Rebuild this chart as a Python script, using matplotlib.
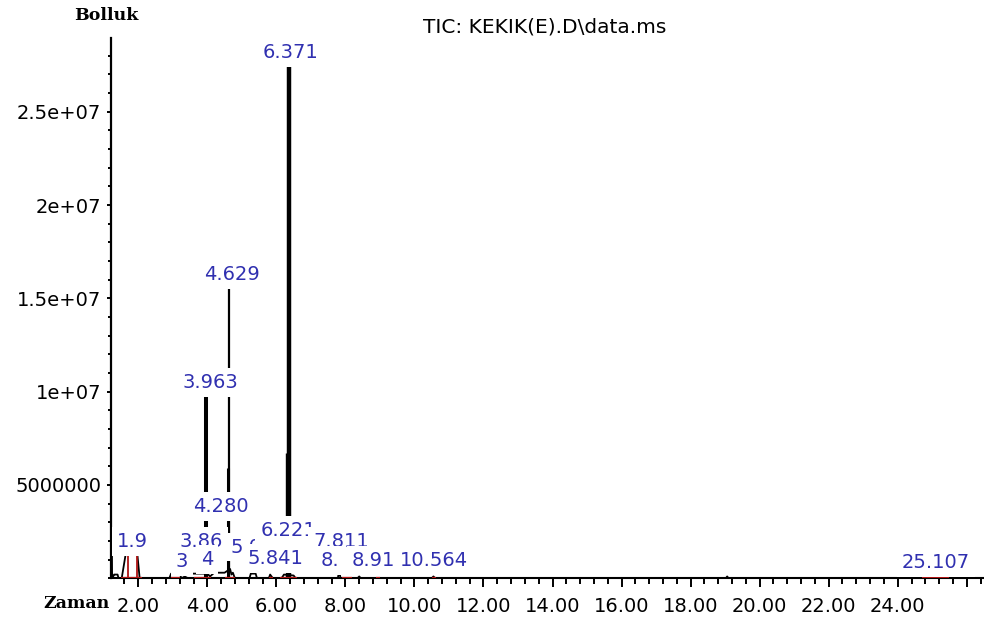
import matplotlib
matplotlib.use('Agg')
import matplotlib.pyplot as plt
from matplotlib.ticker import FixedLocator, MultipleLocator

# main peaks (retention time in min, abundance)
peak_rt = [3.963, 4.600, 4.629, 6.270, 6.371]
peak_abund = [9.88e6, 5.9e6, 15.54e6, 6.7e6, 27.46e6]

# low level part of the TIC trace near the baseline
trace_t = [1.21, 1.225, 1.245, 1.30, 1.33, 1.40, 1.43, 1.52, 1.64, 1.85, 1.97, 2.04,
           2.90, 2.95, 3.20, 3.25, 3.45, 3.50, 3.62, 4.00, 4.08, 4.20, 4.25, 4.50,
           4.66, 4.70, 4.74, 4.80, 5.22, 5.26, 5.40, 5.44, 5.78, 5.82, 5.90, 6.15,
           6.22, 6.50, 6.56, 7.78, 7.82, 7.86, 8.35, 8.40, 8.45, 10.50, 10.55, 10.60,
           19.02, 19.06, 19.10, 24.88, 24.92, 25.45, 25.50, 25.80, 25.84, 25.88, 26.5]
trace_abund = [0, 1.35e6, 0, 0.2e6, 0.2e6, 0.2e6, 0, 0, 1.35e6, 1.35e6, 1.35e6, 0,
               0, 0.25e6, 0.25e6, 0, 0.2e6, 0.25e6, 0.25e6, 0.25e6, 0.1e6, 0.3e6, 0.3e6, 0.3e6,
               0.5e6, 0.2e6, 0.3e6, 0, 0, 0.25e6, 0.25e6, 0, 0, 0.2e6, 0, 0,
               0.2e6, 0.15e6, 0, 0, 0.4e6, 0, 0, 0.1e6, 0, 0, 0.1e6, 0,
               0, 0.1e6, 0, 0, 0.15e6, 0.15e6, 0, 0, 0.1e6, 0, 0]

# integration events (red)
integ_start = [1.50, 2.95, 3.60, 4.50, 5.78, 6.10, 7.90, 8.90, 10.50, 24.70]
integ_end = [2.10, 3.20, 4.10, 4.80, 5.90, 6.60, 8.20, 9.00, 10.62, 25.50]
integ_box_rt = [1.71, 1.95]
integ_box_abund = 1.33e6

# peak labels as they show on the plot
label_text = ['6.371', '4.629', '3.963', '4.280', '1.9', '3.86', '5.087', '6.221', '7.811',
              '3', '4', '5.841', '8.', '8.91', '10.564', '25.107']
label_rt = [6.42, 4.70, 4.09, 4.38, 1.82, 3.83, 5.47, 6.34, 7.87,
            3.27, 4.00, 5.96, 7.54, 8.82, 10.57, 25.11]
label_abund = [28.26e6, 16.36e6, 10.57e6, 3.93e6, 2.05e6, 2.05e6, 1.75e6, 2.62e6, 2.05e6,
               0.98e6, 1.09e6, 1.14e6, 1.03e6, 1.03e6, 1.03e6, 0.93e6]

xtick_values = [2, 4, 6, 8, 10, 12, 14, 16, 18, 20, 22, 24, 26]
xtick_labels = ['2.00', '4.00', '6.00', '8.00', '10.00', '12.00', '14.00', '16.00',
                '18.00', '20.00', '22.00', '24.00', '']
ytick_values = [5e6, 1e7, 1.5e7, 2e7, 2.5e7]
ytick_labels = ['5000000', '1e+07', '1.5e+07', '2e+07', '2.5e+07']

peak_lw = [2.9, 2.2, 1.6, 1.0, 3.2]
red = '#b01515'
blue = '#3030b0'

fig = plt.figure(figsize=(9.84, 6.23), dpi=100)
ax = fig.add_axes([111 / 984, 1 - 578.3 / 623, (984 - 111) / 984, (578.3 - 38) / 623])

ax.plot(trace_t, trace_abund, color='black', lw=1.3, zorder=2)
ax.vlines(peak_rt, 0, peak_abund, colors='black', linewidths=peak_lw, zorder=2)
ax.hlines([0] * len(integ_start), integ_start, integ_end, colors=red, lw=1.6, zorder=3)
ax.vlines(integ_box_rt, 0, integ_box_abund, colors=red, lw=1.3, zorder=3)
ax.hlines(integ_box_abund, integ_box_rt[0], integ_box_rt[1], colors=red, lw=1.3, zorder=3)

for i, (txt, x, y) in enumerate(zip(label_text, label_rt, label_abund)):
    ax.annotate(txt, (x, y), xytext=(0, -5), textcoords='offset points',
                ha='center', va='baseline', fontsize=14, color=blue, zorder=4 + i,
                bbox=dict(boxstyle='square,pad=0.25', fc='white', ec='none'),
                annotation_clip=False)

ax.set_xlim(1.21, 26.5)
ax.set_ylim(0, 2.895e7)

ax.xaxis.set_major_locator(FixedLocator(xtick_values))
ax.set_xticklabels(xtick_labels)
ax.xaxis.set_minor_locator(MultipleLocator(0.4))
ax.yaxis.set_major_locator(FixedLocator(ytick_values))
ax.set_yticklabels(ytick_labels)
ax.yaxis.set_minor_locator(MultipleLocator(1e6))

ax.tick_params(axis='x', which='major', direction='out', length=6.5, width=1.4, pad=7, labelsize=14)
ax.tick_params(axis='x', which='minor', direction='out', length=4, width=1.4)
ax.tick_params(axis='y', which='major', direction='out', length=3, width=1.4, pad=4, labelsize=14)
ax.tick_params(axis='y', which='minor', direction='out', length=2.2, width=1.4)

for side in ['top', 'right']:
    ax.spines[side].set_visible(False)
ax.spines['left'].set_linewidth(1.6)
ax.spines['bottom'].set_linewidth(1.5)

fig.text(545 / 984, 1 - 27 / 623, 'TIC: KEKIK(E).D\\data.ms', ha='center', va='center', fontsize=14.5)
fig.text(106 / 984, 1 - 15 / 623, 'Bolluk', ha='center', va='center',
         family='DejaVu Serif', weight='bold', fontsize=12.5)
fig.text(76 / 984, 1 - 603 / 623, 'Zaman', ha='center', va='center',
         family='DejaVu Serif', weight='bold', fontsize=12.5)

fig.savefig('out.png', dpi=100)
